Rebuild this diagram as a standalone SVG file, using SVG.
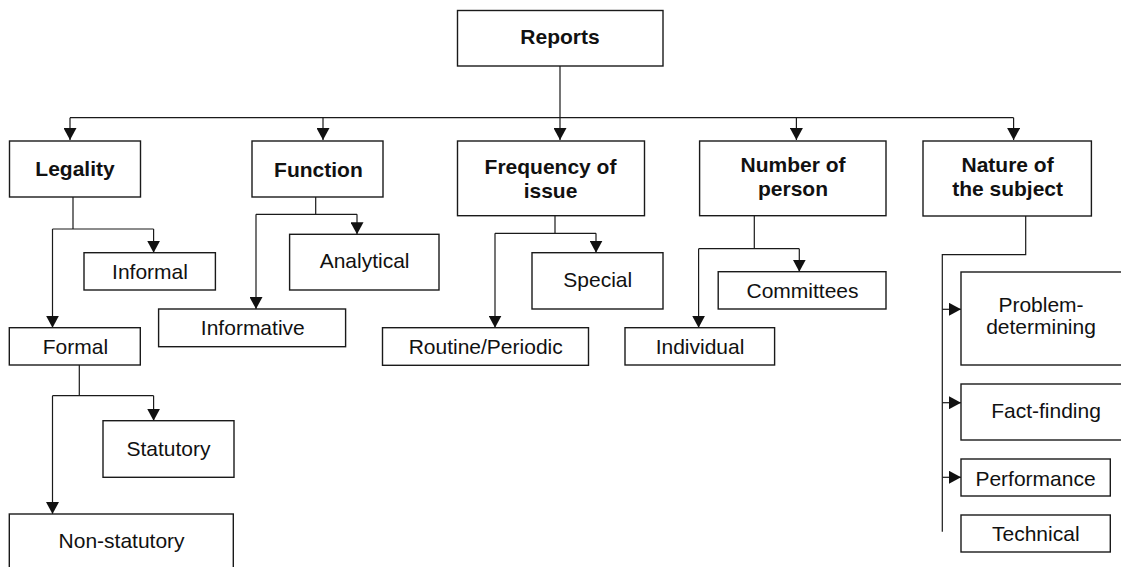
<svg xmlns="http://www.w3.org/2000/svg" width="1121" height="567" viewBox="0 0 1121 567">
  <style>
    .box { fill: #ffffff; stroke: #1a1a1a; stroke-width: 1.4; }
    .ln { fill: none; stroke: #1a1a1a; stroke-width: 1.2; }
    .arr { fill: none; stroke: #1a1a1a; stroke-width: 1.2; marker-end: url(#ah); }
    text { font-family: "Liberation Sans", Arial, sans-serif; font-size: 21px; fill: #111111; text-anchor: middle; }
    .b { font-weight: bold; }
  </style>
  <defs>
    <marker id="ah" markerUnits="userSpaceOnUse" markerWidth="13" markerHeight="13" refX="12" refY="6.5" orient="auto">
      <path d="M0,0 L12,6.5 L0,13 Z" fill="#111111"/>
    </marker>
  </defs>
  <rect width="1121" height="567" fill="#ffffff"/>

  <g id="connectors">
    <!-- root -->
    <path class="ln" d="M560,66 V117.7 M70,117.7 H1013.6"/>
    <path class="arr" d="M70,117.7 V140"/>
    <path class="arr" d="M323,117.7 V140"/>
    <path class="arr" d="M560,117.7 V140"/>
    <path class="arr" d="M796.4,117.7 V140"/>
    <path class="arr" d="M1013.6,117.7 V140"/>
    <!-- legality -->
    <path class="ln" d="M73,197 V229 M52.5,229 H153.6"/>
    <path class="arr" d="M153.6,229 V252.7"/>
    <path class="arr" d="M52.5,229 V327.7"/>
    <!-- formal -->
    <path class="ln" d="M79.3,365 V395.7 M52.5,395.7 H153.6"/>
    <path class="arr" d="M153.6,395.7 V420.7"/>
    <path class="arr" d="M52.5,395.7 V514"/>
    <!-- function -->
    <path class="ln" d="M315.7,197 V214.3 M256,214.3 H357"/>
    <path class="arr" d="M357,214.3 V234.3"/>
    <path class="arr" d="M256,214.3 V309"/>
    <!-- frequency -->
    <path class="ln" d="M555,215.7 V233.3 M495,233.3 H596"/>
    <path class="arr" d="M596,233.3 V252.7"/>
    <path class="arr" d="M495,233.3 V327.7"/>
    <!-- number of person -->
    <path class="ln" d="M754.3,215.7 V248.7 M698.6,248.7 H799.3"/>
    <path class="arr" d="M799.3,248.7 V271.7"/>
    <path class="arr" d="M698.6,248.7 V327.7"/>
    <!-- nature of the subject -->
    <path class="ln" d="M1025.7,216 V254.7 H942.3 V531.7"/>
    <path class="arr" d="M942.3,309.3 H961"/>
    <path class="arr" d="M942.3,402.7 H961"/>
    <path class="arr" d="M942.3,477.3 H961"/>
  </g>

  <g id="reports">
    <rect class="box" x="457.5" y="10.5" width="205.5" height="55.5"/>
    <text class="b" x="560" y="44">Reports</text>
  </g>
  <g id="legality">
    <rect class="box" x="9.5" y="141" width="131" height="56"/>
    <text class="b" x="75" y="176">Legality</text>
  </g>
  <g id="function">
    <rect class="box" x="252" y="141" width="131" height="56"/>
    <text class="b" x="318.4" y="177">Function</text>
  </g>
  <g id="frequency">
    <rect class="box" x="457.5" y="141" width="187" height="74.7"/>
    <text class="b" x="550.5" y="174">Frequency of</text>
    <text class="b" x="550.5" y="197.5">issue</text>
  </g>
  <g id="number">
    <rect class="box" x="699.6" y="141" width="186.4" height="74.7"/>
    <text class="b" x="793" y="172">Number of</text>
    <text class="b" x="793" y="196">person</text>
  </g>
  <g id="nature">
    <rect class="box" x="923" y="141" width="168.4" height="75"/>
    <text class="b" x="1007.6" y="172">Nature of</text>
    <text class="b" x="1007.6" y="196">the subject</text>
  </g>

  <g id="informal">
    <rect class="box" x="84" y="252.7" width="131.4" height="37.3"/>
    <text x="150" y="279">Informal</text>
  </g>
  <g id="formal">
    <rect class="box" x="9.3" y="327.7" width="131" height="37.3"/>
    <text x="75.4" y="354.3">Formal</text>
  </g>
  <g id="statutory">
    <rect class="box" x="103" y="420.7" width="131" height="56.6"/>
    <text x="168.4" y="455.7">Statutory</text>
  </g>
  <g id="nonstatutory">
    <rect class="box" x="9.3" y="514" width="224" height="62"/>
    <text x="121.6" y="548.3">Non-statutory</text>
  </g>

  <g id="analytical">
    <rect class="box" x="289.6" y="234.3" width="149.4" height="55.7"/>
    <text x="364.6" y="268.3">Analytical</text>
  </g>
  <g id="informative">
    <rect class="box" x="158.6" y="309" width="187" height="37.7"/>
    <text x="252.8" y="335">Informative</text>
  </g>

  <g id="special">
    <rect class="box" x="532" y="252.7" width="131" height="56.3"/>
    <text x="597.8" y="287.3">Special</text>
  </g>
  <g id="routine">
    <rect class="box" x="382.5" y="327.7" width="206" height="37.6"/>
    <text x="485.7" y="354.3">Routine/Periodic</text>
  </g>

  <g id="committees">
    <rect class="box" x="718.2" y="271.7" width="167.8" height="37.3"/>
    <text x="802.5" y="298.3">Committees</text>
  </g>
  <g id="individual">
    <rect class="box" x="625" y="327.7" width="149.6" height="37.3"/>
    <text x="700" y="354.3">Individual</text>
  </g>

  <g id="problem">
    <rect class="box" x="961" y="272" width="170" height="93"/>
    <text x="1041" y="312">Problem-</text>
    <text x="1041" y="334">determining</text>
  </g>
  <g id="factfinding">
    <rect class="box" x="961" y="384" width="170" height="56"/>
    <text x="1046" y="418.3">Fact-finding</text>
  </g>
  <g id="performance">
    <rect class="box" x="961" y="459" width="149.3" height="37"/>
    <text x="1035.5" y="485.7">Performance</text>
  </g>
  <g id="technical">
    <rect class="box" x="961" y="515" width="149.3" height="37"/>
    <text x="1035.8" y="541">Technical</text>
  </g>
</svg>
